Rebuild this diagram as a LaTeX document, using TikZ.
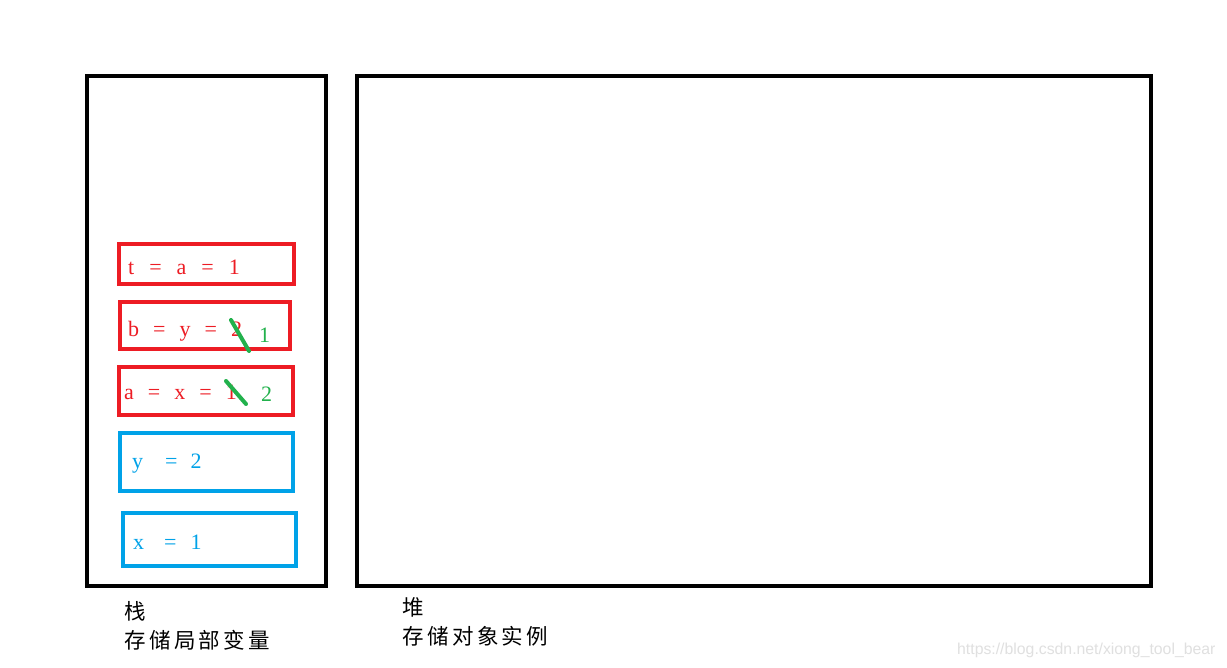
\documentclass[tikz,border=0pt]{standalone}
\usepackage{fontspec}
\setmainfont{Liberation Serif}
\newfontfamily\cjk[LetterSpace=16]{Noto Sans CJK SC}
\newfontfamily\wm{Liberation Sans}
\definecolor{pred}{HTML}{ED1C24}
\definecolor{pblue}{HTML}{00A2E8}
\definecolor{pgreen}{HTML}{22B14C}
\tikzset{
  bigbox/.style={draw=black,line width=4.5pt,inner sep=0pt},
  redbox/.style={draw=pred,line width=4.5pt,inner sep=0pt},
  bluebox/.style={draw=pblue,line width=4.5pt,inner sep=0pt},
  txt/.style={font=\fontsize{22}{24}\selectfont,anchor=west,inner sep=0pt},
  redtxt/.style={txt,text=pred},
  bluetxt/.style={txt,text=pblue},
  greentxt/.style={txt,text=pgreen},
  strike/.style={draw=pgreen,line width=4pt,line cap=round},
  cjklabel/.style={font=\cjk\fontsize{21.5}{29}\selectfont,anchor=north west,align=left,inner sep=0pt},
}
\begin{document}
\begin{tikzpicture}[x=1pt,y=-1pt]
\useasboundingbox[fill=white] (0,0) rectangle (1227,668);
% stack and heap
\node[bigbox,minimum width=239pt,minimum height=510pt] (stack) at (206.5,331) {};
\node[bigbox,minimum width=794pt,minimum height=510pt] (heap) at (754,331) {};
% boxes
\node[redbox,minimum width=175pt,minimum height=40pt] (r1) at (206.5,264) {};
\node[redbox,minimum width=170pt,minimum height=47pt] (r2) at (205,325.5) {};
\node[redbox,minimum width=174pt,minimum height=48pt] (r3) at (206,391) {};
\node[bluebox,minimum width=173pt,minimum height=58pt] (b4) at (206.5,462) {};
\node[bluebox,minimum width=173pt,minimum height=53pt] (b5) at (209.5,539.5) {};
% texts
\node[redtxt] (t1) at (128,267) {t\hspace{15pt}=\hspace{15pt}a\hspace{15pt}=\hspace{15pt}1};
\node[redtxt] (t2) at (128,331) {b\hspace{14pt}=\hspace{14pt}y\hspace{14pt}=\hspace{14pt}2};
\node[greentxt] (g1) at (259,335) {1};
\node[redtxt] (t3) at (124,392) {a\hspace{14pt}=\hspace{14pt}x\hspace{14pt}=\hspace{14pt}1};
\node[greentxt] (g2) at (261,394) {2};
\node[bluetxt] (t4) at (132,464) {y\hspace{22pt}=\hspace{13pt}2};
\node[bluetxt] (t5) at (133,542) {x\hspace{20pt}=\hspace{14pt}1};
% strikes
\coordinate (s1a) at (231,320); \coordinate (s1b) at (249,351);
\coordinate (s2a) at (226,381); \coordinate (s2b) at (246,404);
\draw[strike] (s1a) -- (s1b);
\draw[strike] (s2a) -- (s2b);
% labels
\node[cjklabel] (lstack) at (124,601) {栈\\存储局部变量};
\node[cjklabel] (lheap) at (402,597) {堆\\存储对象实例};
\node[text=black!12,font=\wm\fontsize{15.8}{18}\selectfont,anchor=west,inner sep=0pt] (wmk) at (957,650) {https://blog.csdn.net/xiong\_tool\_bear};
\end{tikzpicture}
\end{document}
